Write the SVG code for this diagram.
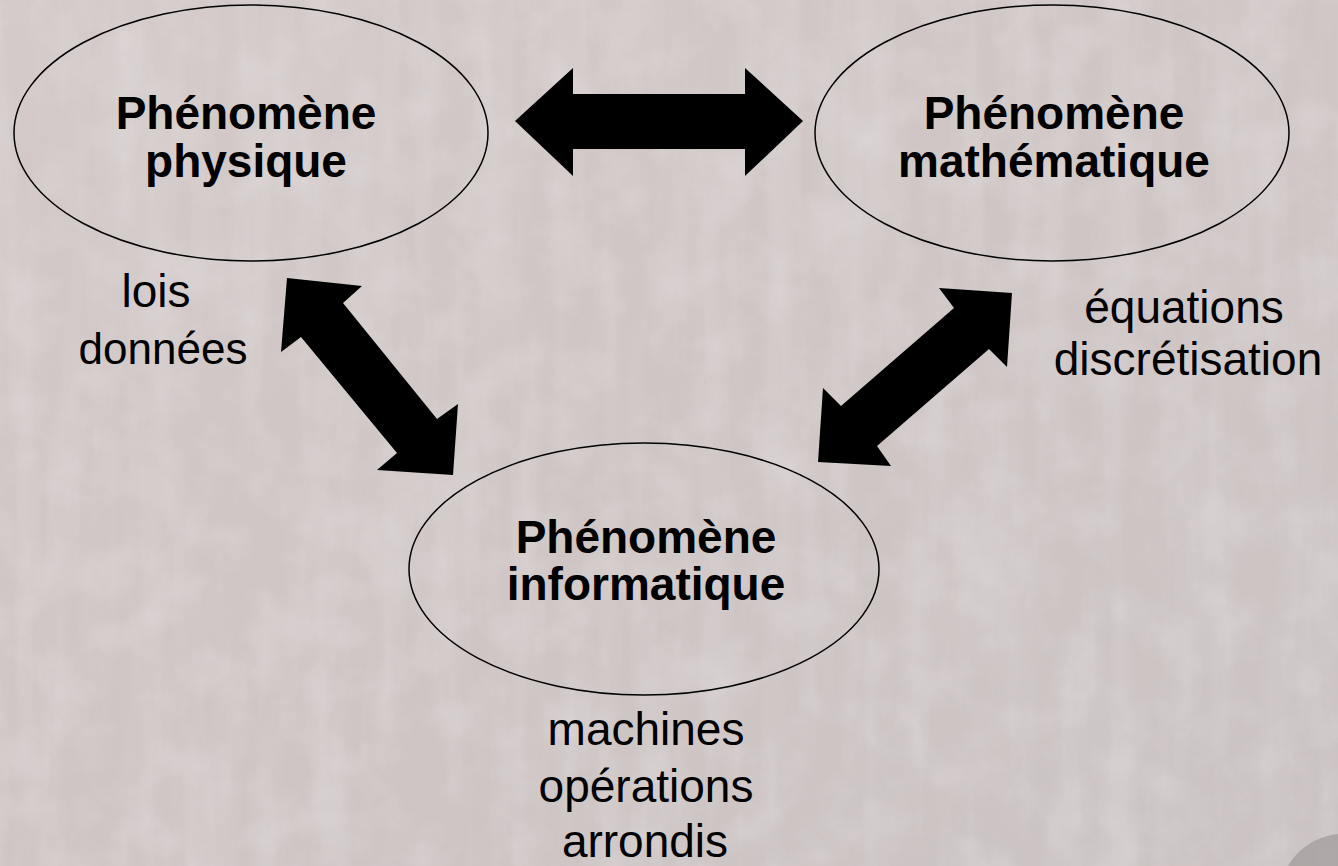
<svg xmlns="http://www.w3.org/2000/svg" width="1338" height="866" viewBox="0 0 1338 866">
  <defs>
    <style>
      .node ellipse { fill: none; stroke: #000; stroke-width: 1.5; }
      .title { font-family: "Liberation Sans", Arial, sans-serif; font-weight: bold; font-size: 46px; fill: #000; text-anchor: middle; }
      .note { font-family: "Liberation Sans", Arial, sans-serif; font-size: 46px; fill: #000; text-anchor: middle; }
      .arrow { fill: #000; stroke: none; }
    </style>
    <filter id="streaks" x="0" y="0" width="100%" height="100%">
      <feTurbulence type="fractalNoise" baseFrequency="0.03 0.003" numOctaves="4" seed="7" result="n"/>
      <feColorMatrix in="n" type="matrix" values="0 0 0 0 0.80  0 0 0 0 0.77  0 0 0 0 0.77  0 0 0 -1.4 0.85"/>
    </filter>
    <filter id="mottle" x="0" y="0" width="100%" height="100%">
      <feTurbulence type="fractalNoise" baseFrequency="0.02" numOctaves="5" seed="3" result="n"/>
      <feColorMatrix in="n" type="matrix" values="0 0 0 0 0.88  0 0 0 0 0.85  0 0 0 0 0.85  0 0 0 -1.6 0.95"/>
    </filter>
    <linearGradient id="bg" x1="0" y1="0" x2="1" y2="1">
      <stop offset="0" stop-color="#d3cac9"/>
      <stop offset="0.5" stop-color="#cfc5c5"/>
      <stop offset="1" stop-color="#cbc3c3"/>
    </linearGradient>
  </defs>

  <rect x="0" y="0" width="1338" height="866" fill="url(#bg)"/>
  <rect x="0" y="0" width="1338" height="866" filter="url(#streaks)" opacity="0.4"/>
  <rect x="0" y="0" width="1338" height="866" filter="url(#mottle)" opacity="0.3"/>
  <path d="M1288,866 C1300,845 1320,836 1338,834 L1338,866 Z" fill="#9e9a99" opacity="0.7"/>

  <g id="connectors">
    <polygon class="arrow" points="515,121 573,68 573,94 745,94 745,68 803,121 745,176 745,149 573,149 573,176"/>
    <polygon class="arrow" points="287,278 362,286 343,303 437,419 458,404 453,475 377,470 397,453 301,337 281,352"/>
    <polygon class="arrow" points="1012,293 1007,367 989,349 877,446 891,466 818,462 823,388 841,406 954,308 939,288"/>
  </g>

  <g id="node-physique" class="node">
    <ellipse cx="251" cy="133" rx="237" ry="128"/>
    <text class="title" x="246" y="129">Phénomène</text>
    <text class="title" x="246" y="177">physique</text>
  </g>

  <g id="node-mathematique" class="node">
    <ellipse cx="1052" cy="133" rx="237" ry="128"/>
    <text class="title" x="1054" y="129">Phénomène</text>
    <text class="title" x="1054" y="177">mathématique</text>
  </g>

  <g id="node-informatique" class="node">
    <ellipse cx="644" cy="569" rx="235" ry="126"/>
    <text class="title" x="646" y="553">Phénomène</text>
    <text class="title" x="646" y="600">informatique</text>
  </g>

  <g id="label-physique">
    <text class="note" x="156" y="307">lois</text>
    <text class="note" x="163" y="364" style="font-size:44px">données</text>
  </g>

  <g id="label-mathematique">
    <text class="note" x="1184" y="323">équations</text>
    <text class="note" x="1188" y="375">discrétisation</text>
  </g>

  <g id="label-informatique">
    <text class="note" x="646" y="745">machines</text>
    <text class="note" x="646" y="802">opérations</text>
    <text class="note" x="645" y="857">arrondis</text>
  </g>
</svg>
